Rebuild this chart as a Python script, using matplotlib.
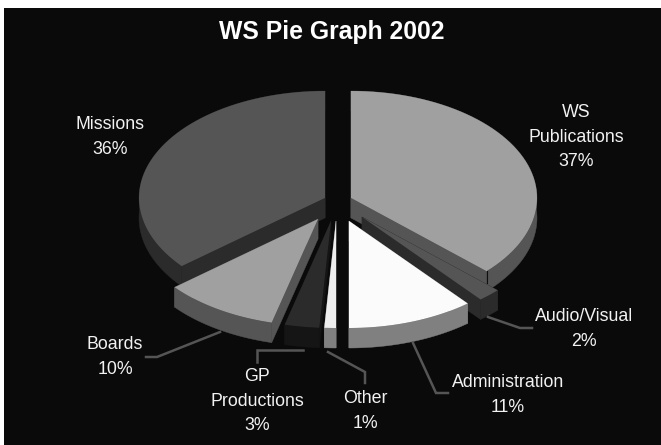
import numpy as np
import matplotlib
matplotlib.use('Agg')
import matplotlib.pyplot as plt
from matplotlib.patches import Polygon, Rectangle

plt.rcParams['font.family'] = ['Liberation Sans', 'DejaVu Sans']

# slices, clockwise from 12 o'clock
names = ['WS\nPublications', 'Audio/Visual', 'Administration', 'Other',
         'GP\nProductions', 'Boards', 'Missions']
percent = [37, 2, 11, 1, 3, 10, 36]

# pixel layout of the exploded 3d pie
apex_x = [351, 362, 349, 336, 331, 318, 325]
apex_y = [198, 217, 221, 221, 221, 219, 198]
top_col = ['#a0a0a0', '#555555', '#fbfbfb', '#eeeeee', '#2b2b2b', '#a0a0a0', '#555555']
side_col = ['#555555', '#2b2b2b', '#808080', '#808080', '#151515', '#555555', '#2b2b2b']
draw_order = [6, 0, 1, 5, 4, 2, 3]
label_x = [576, 584, 508, 365, 257, 115, 110]
label_y = [137, 329, 395, 411, 401, 357, 137]
rx, ry, depth = 186, 107, 20

leaders = [([220, 157, 146], [332, 357, 357]),
           ([303, 257, 257], [350, 350, 362]),
           ([328, 365, 365], [352, 372, 383]),
           ([413, 436, 448], [343, 393, 393]),
           ([488, 520, 532], [317, 328, 328])]

fig = plt.figure(figsize=(6.61, 4.45), dpi=100, facecolor='white')
ax = fig.add_axes([0, 0, 1, 1])
ax.set_xlim(0, 661)
ax.set_ylim(445, 0)
ax.axis('off')
ax.add_patch(Rectangle((4, 8), 657, 437, fc='#0a0a0a', ec='none', zorder=0))

edges = np.cumsum([0] + percent) / sum(percent) * 2 * np.pi


def rim(i, n=60):
    t = np.linspace(edges[i], edges[i + 1], n)
    return apex_x[i] + rx * np.sin(t), apex_y[i] - ry * np.cos(t)


z = 1
for i in draw_order:
    x, y = rim(i)
    cx, cy = apex_x[i], apex_y[i]
    # the two cut faces
    for k in (0, -1):
        ax.add_patch(Polygon([(cx, cy), (x[k], y[k]), (x[k], y[k] + depth), (cx, cy + depth)],
                             fc=side_col[i], ec=side_col[i], lw=0.3, zorder=z))
    # outer wall
    wall = np.r_[np.c_[x, y], np.c_[x, y + depth][::-1]]
    ax.add_patch(Polygon(wall, fc=side_col[i], ec=side_col[i], lw=0.3, zorder=z))
    z += 1
    ax.add_patch(Polygon(np.r_[[(cx, cy)], np.c_[x, y]], fc=top_col[i], ec='none', zorder=z))
    z += 1
    # dark corner line where the cut face meets the wall
    if i == 0:
        ax.plot([x[-1], x[-1]], [y[-1], y[-1] + 12], color='#111111', lw=0.8, zorder=z)

for lx, ly in leaders:
    ax.plot(lx, ly, color='#555555', lw=1.8, solid_joinstyle='miter', zorder=z)

ax.text(332, 32, 'WS Pie Graph 2002', color='white', fontsize=17.8, fontweight='bold',
        ha='center', va='center', zorder=z)
for i in range(len(names)):
    ax.text(label_x[i], label_y[i], '%s\n%d%%' % (names[i], percent[i]), color='#f2f2f2',
            fontsize=12.8, ha='center', va='center', linespacing=1.58, zorder=z)

fig.savefig('out.png', dpi=100, facecolor='white')
